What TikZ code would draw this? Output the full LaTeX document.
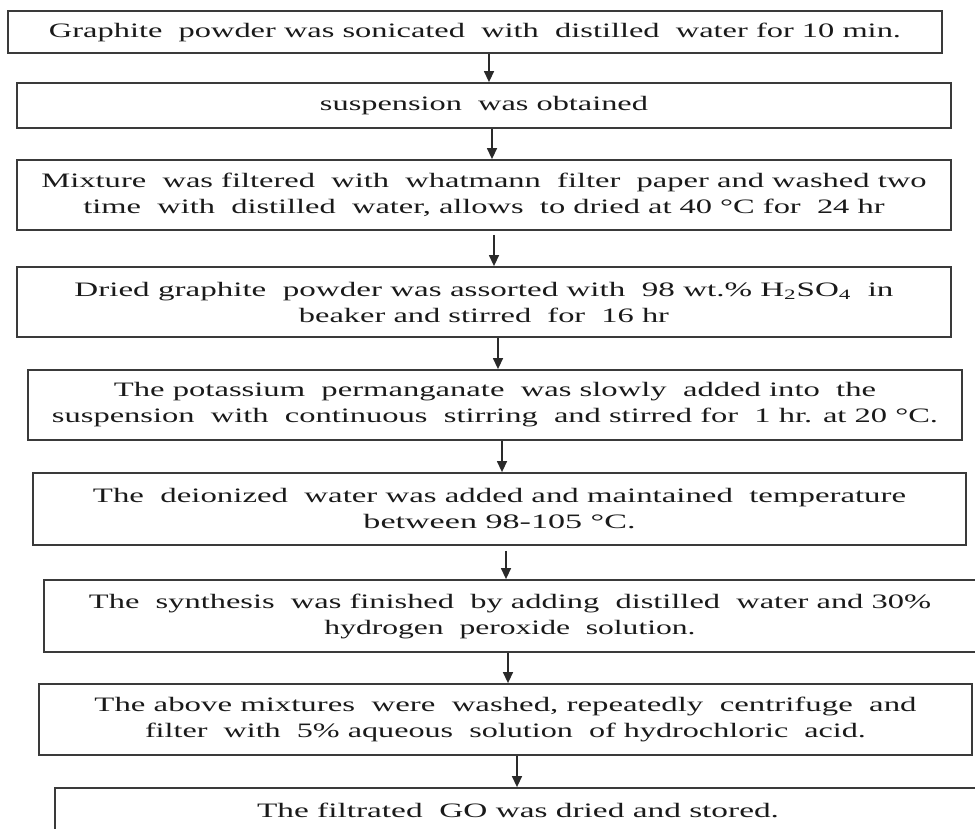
\documentclass[tikz,border=0pt]{standalone}
\usepackage{fontspec}
\setmainfont{Liberation Serif}
\usetikzlibrary{arrows.meta}
\definecolor{boxgray}{HTML}{3A3A3A}
\definecolor{txtgray}{HTML}{1A1A1A}
\definecolor{arrgray}{HTML}{2A2A2A}
\newcommand\sline[2]{\resizebox{#1pt}{\height}{#2}}
\begin{document}
\begin{tikzpicture}[x=1pt,y=-1pt,
  stepbox/.style={draw=boxgray, line width=1.8pt, fill=white, inner sep=0pt,
    align=center, text=txtgray, font=\fontsize{20.5}{26}\selectfont},
  flow/.style={draw=arrgray, line width=1.4pt, -{Triangle[length=11pt,width=10pt]}}]
\useasboundingbox (0,0) rectangle (975,829);
\clip (0,0) rectangle (975,829);
\fill[white] (0,0) rectangle (975,829);

\node[stepbox, minimum width=934pt, minimum height=42pt] (b1) at (475,32)
  {\sline{852}{Graphite\ \ powder was sonicated\ \ with\ \ distilled\ \ water for 10 min.}};
\node[stepbox, minimum width=934pt, minimum height=45pt] (b2) at (484,105.5)
  {\sline{328}{suspension\ \ was obtained}};
\node[stepbox, minimum width=934pt, minimum height=70pt] (b3) at (484,195)
  {\sline{885}{Mixture\ \ was filtered\ \ with\ \ whatmann\ \ filter\ \ paper and washed two}\\
   \sline{801}{time\ \ with\ \ distilled\ \ water, allows\ \ to dried at 40 °C for\ \ 24 hr}};
\node[stepbox, minimum width=934pt, minimum height=70pt] (b4) at (484,302)
  {\sline{819}{Dried graphite\ \ powder was assorted with\ \ 98 wt.\% H\textsubscript{2}SO\textsubscript{4}\ \ in}\\
   \sline{370}{beaker and stirred\ \ for\ \ 16 hr}};
\node[stepbox, minimum width=934pt, minimum height=70pt] (b5) at (495,405)
  {\sline{762}{The potassium\ \ permanganate\ \ was slowly\ \ added into\ \ the}\\
   \sline{886}{suspension\ \ with\ \ continuous\ \ stirring\ \ and stirred for\ \ 1 hr. at 20 °C.}};
\node[stepbox, minimum width=933pt, minimum height=72pt] (b6) at (499.5,509)
  {\sline{813}{The\ \ deionized\ \ water was added and maintained\ \ temperature}\\
   \sline{272}{between 98-105 °C.}};
\node[stepbox, minimum width=932pt, minimum height=72pt] (b7) at (510,616)
  {\sline{842}{The\ \ synthesis\ \ was finished\ \ by adding\ \ distilled\ \ water and 30\%}\\
   \sline{371}{hydrogen\ \ peroxide\ \ solution.}};
\node[stepbox, minimum width=933pt, minimum height=71pt] (b8) at (505.5,719.5)
  {\sline{822}{The above mixtures\ \ were\ \ washed, repeatedly\ \ centrifuge\ \ and}\\
   \sline{721}{filter\ \ with\ \ 5\% aqueous\ \ solution\ \ of hydrochloric\ \ acid.}};
\node[stepbox, minimum width=926pt, minimum height=44pt] (b9) at (518,810)
  {\sline{522}{The filtrated\ \ GO was dried and stored.}};

\coordinate (x1) at (489,0);
\coordinate (x2) at (492,0);
\coordinate (x3) at (494,0);
\coordinate (x4) at (498,0);
\coordinate (x5) at (502,0);
\coordinate (x6) at (506,0);
\coordinate (x7) at (508,0);
\coordinate (x8) at (517,0);

\draw[flow] (b1.south -| x1) -- (b2.north -| x1);
\draw[flow] (b2.south -| x2) -- (b3.north -| x2);
\draw[flow, shorten <=4pt] (b3.south -| x3) -- (b4.north -| x3);
\draw[flow] (b4.south -| x4) -- (b5.north -| x4);
\draw[flow] (b5.south -| x5) -- (b6.north -| x5);
\draw[flow, shorten <=5pt] (b6.south -| x6) -- (b7.north -| x6);
\draw[flow] (b7.south -| x7) -- (b8.north -| x7);
\draw[flow] (b8.south -| x8) -- (b9.north -| x8);
\end{tikzpicture}
\end{document}
